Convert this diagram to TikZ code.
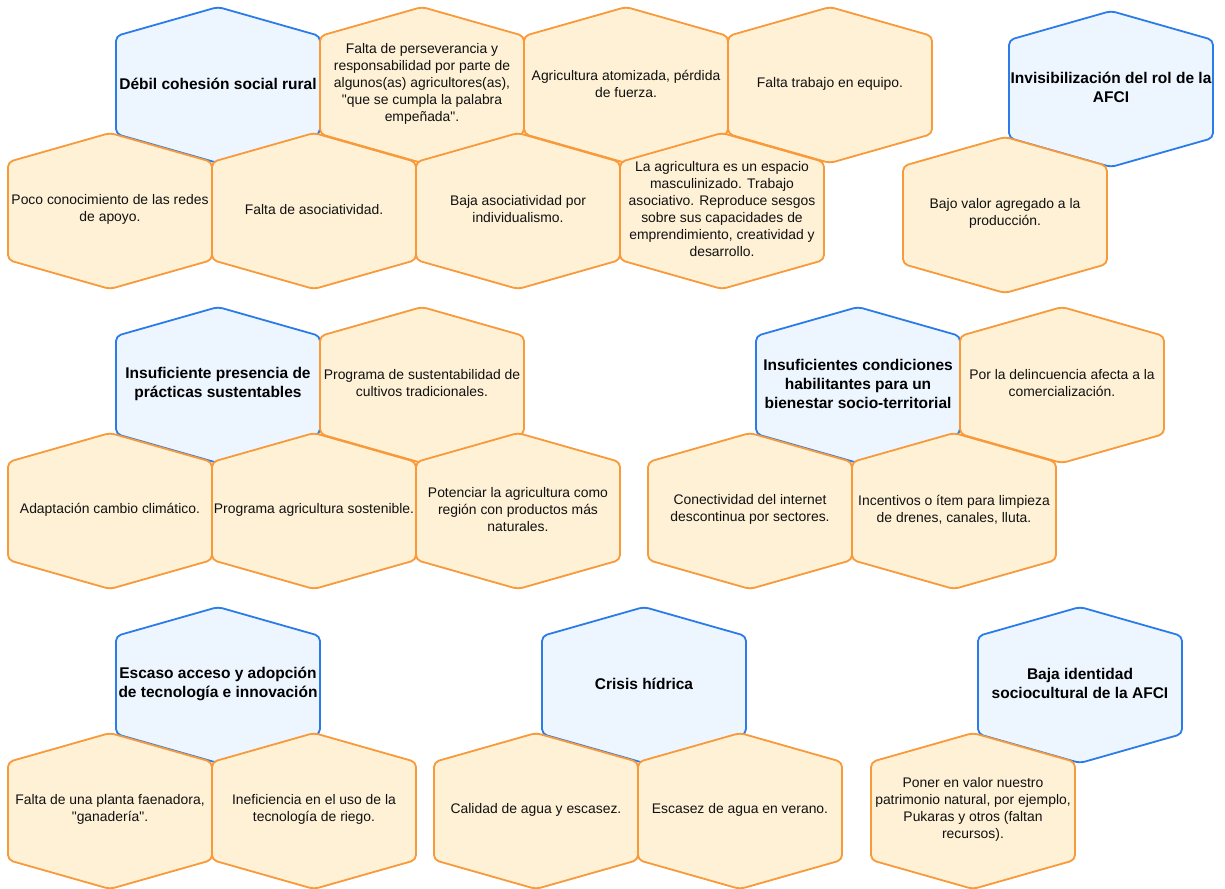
\documentclass[tikz,border=0pt]{standalone}
\usepackage{fontspec}
\setmainfont{Liberation Sans}[Ligatures=TeXOff]
\definecolor{blueline}{HTML}{2B7CE9}
\definecolor{bluefill}{HTML}{EDF5FF}
\definecolor{orangeline}{HTML}{F8993A}
\definecolor{orangefill}{HTML}{FFF1D6}
\definecolor{txtcol}{HTML}{111111}
\newcommand\hexcell[5]{%
  \draw[#1] (#3+102,#4) -- (#3+102,#4+49) -- (#3,#4+78) -- (#3-102,#4+49)
    -- (#3-102,#4-49) -- (#3,#4-78) -- (#3+102,#4-49) -- cycle;
  \node[#1txt] (#2) at (#3,#4) {#5};}
\tikzset{
  hexblue/.style={draw=blueline, fill=bluefill, line width=1.8pt, rounded corners=5pt, line join=round},
  hexorange/.style={draw=orangeline, fill=orangefill, line width=1.8pt, rounded corners=5pt, line join=round},
  hexbluetxt/.style={align=center, inner sep=0pt, yshift=1.5pt, text=black, font=\fontsize{15.5}{19}\selectfont\bfseries},
  hexorangetxt/.style={align=center, inner sep=0pt, yshift=1.5pt, text=txtcol, font=\fontsize{13.9}{17}\selectfont},
}
\begin{document}
\begin{tikzpicture}[x=1pt, y=-1pt]
\fill[white] (0,0) rectangle (1225,888);
\useasboundingbox (0,0) rectangle (1225,888);

% group 1
\hexcell{hexblue}{b1}{218}{85}{Débil cohesión social rural}
\hexcell{hexorange}{o1a}{422}{85}{Falta de perseverancia y\\responsabilidad por parte de\\algunos(as) agricultores(as),\\"que se cumpla la palabra\\empeñada".}
\hexcell{hexorange}{o1b}{626}{85}{Agricultura atomizada, pérdida\\de fuerza.}
\hexcell{hexorange}{o1c}{830}{85}{Falta trabajo en equipo.}
\hexcell{hexorange}{o1d}{110}{211}{Poco conocimiento de las redes\\de apoyo.}
\hexcell{hexorange}{o1e}{314}{211}{Falta de asociatividad.}
\hexcell{hexorange}{o1f}{518}{211}{Baja asociatividad por\\individualismo.}
\hexcell{hexorange}{o1g}{722}{211}{La agricultura es un espacio\\masculinizado. Trabajo\\asociativo. Reproduce sesgos\\sobre sus capacidades de\\emprendimiento, creatividad y\\desarrollo.}

% group 2
\hexcell{hexblue}{b2}{1111}{89}{Invisibilización del rol de la\\AFCI}
\hexcell{hexorange}{o2a}{1005}{215}{Bajo valor agregado a la\\producción.}

% group 3
\hexcell{hexblue}{b3}{218}{385}{Insuficiente presencia de\\prácticas sustentables}
\hexcell{hexorange}{o3a}{422}{385}{Programa de sustentabilidad de\\cultivos tradicionales.}
\hexcell{hexorange}{o3b}{110}{511}{Adaptación cambio climático.}
\hexcell{hexorange}{o3c}{314}{511}{Programa agricultura sostenible.}
\hexcell{hexorange}{o3d}{518}{511}{Potenciar la agricultura como\\región con productos más\\naturales.}

% group 4
\hexcell{hexblue}{b4}{858}{385}{Insuficientes condiciones\\habilitantes para un\\bienestar socio-territorial}
\hexcell{hexorange}{o4a}{1062}{385}{Por la delincuencia afecta a la\\comercialización.}
\hexcell{hexorange}{o4b}{750}{511}{Conectividad del internet\\descontinua por sectores.}
\hexcell{hexorange}{o4c}{954}{511}{Incentivos o ítem para limpieza\\de drenes, canales, lluta.}

% group 5
\hexcell{hexblue}{b5}{218}{685}{Escaso acceso y adopción\\de tecnología e innovación}
\hexcell{hexorange}{o5a}{110}{811}{Falta de una planta faenadora,\\"ganadería".}
\hexcell{hexorange}{o5b}{314}{811}{Ineficiencia en el uso de la\\tecnología de riego.}

% group 6
\hexcell{hexblue}{b6}{644}{685}{Crisis hídrica}
\hexcell{hexorange}{o6a}{536}{811}{Calidad de agua y escasez.}
\hexcell{hexorange}{o6b}{740}{811}{Escasez de agua en verano.}

% group 7
\hexcell{hexblue}{b7}{1080}{685}{Baja identidad\\sociocultural de la AFCI}
\hexcell{hexorange}{o7a}{973}{811}{Poner en valor nuestro\\patrimonio natural, por ejemplo,\\Pukaras y otros (faltan\\recursos).}
\end{tikzpicture}
\end{document}
